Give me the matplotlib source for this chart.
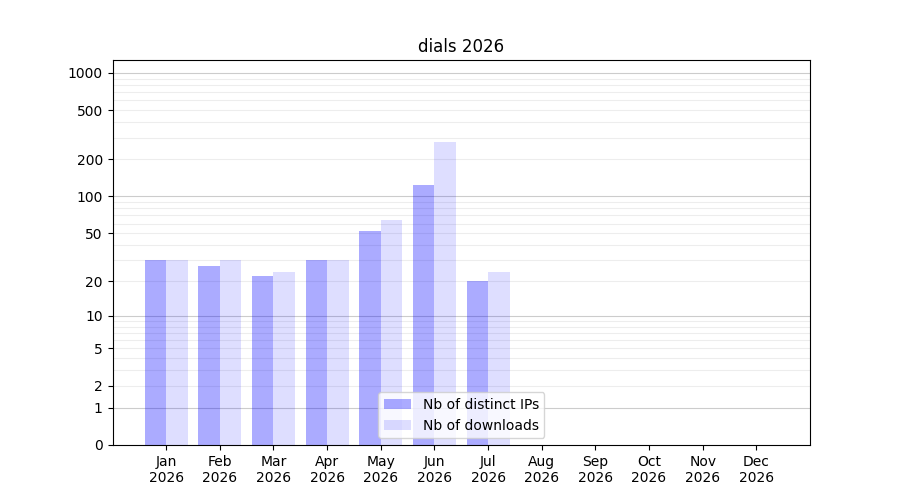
import matplotlib
matplotlib.use('Agg')
import matplotlib.pyplot as plt
import numpy as np

months = ["Jan", "Feb", "Mar", "Apr", "May", "Jun",
          "Jul", "Aug", "Sep", "Oct", "Nov", "Dec"]
year = "2026"
distinct_ips = [30, 27, 22, 30, 52, 124, 20, 0, 0, 0, 0, 0]
downloads = [30, 30, 24, 30, 64, 277, 24, 0, 0, 0, 0, 0]
ytick_values = [0, 1, 2, 5, 10, 20, 50, 100, 200, 500, 1000]


def fwd(v):
    return np.log10(1 + np.clip(v, 0, None))


def inv(v):
    return 10 ** v - 1


fig, ax = plt.subplots(figsize=(9, 5), dpi=100)
ax.set_yscale('function', functions=(fwd, inv))

x = np.arange(len(months))
ax.bar(x - 0.4, distinct_ips, width=0.4, align='edge', color='blue',
       alpha=0.33, label="Nb of distinct IPs", zorder=2)
ax.bar(x, downloads, width=0.4, align='edge', color='blue',
       alpha=0.13, label="Nb of downloads", zorder=2)

# grid lines: decades darker, in-between lighter
for dec in [1, 10, 100, 1000]:
    ax.axhline(dec, color='black', alpha=0.2, linewidth=0.8, zorder=1)
    if dec < 1000:
        for k in range(2, 10):
            ax.axhline(dec * k, color='black', alpha=0.07, linewidth=0.8, zorder=1)

ax.set_yticks(ytick_values)
ax.set_yticklabels([str(v) for v in ytick_values])
ax.minorticks_off()
ax.set_ylim(0, 1270)
ax.set_xlim(-1, 12)
ax.set_xticks(x)
ax.set_xticklabels([f"{m}\n{year}" for m in months])
ax.set_title("dials 2026")
ax.legend(loc='lower center')

plt.savefig("out.png")
